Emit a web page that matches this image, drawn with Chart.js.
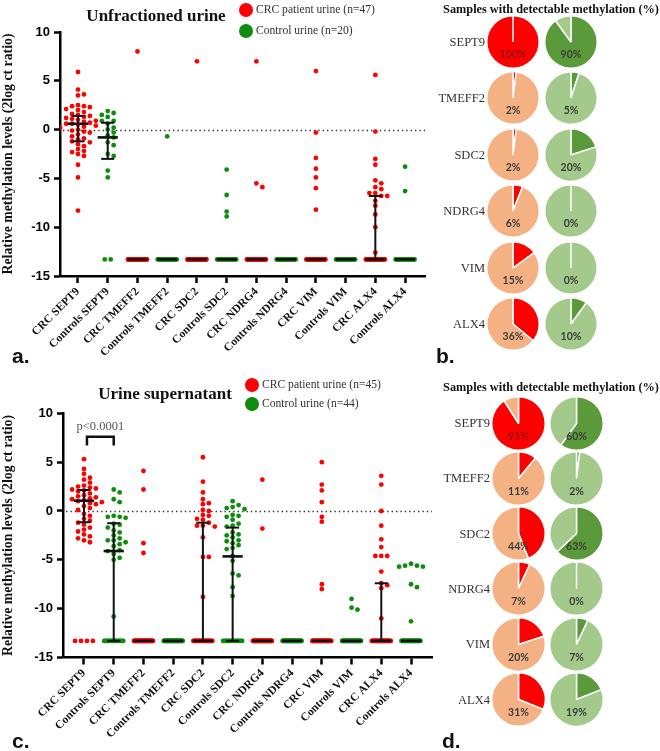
<!DOCTYPE html>
<html><head><meta charset="utf-8">
<script src="https://cdn.jsdelivr.net/npm/chart.js@4.4.0/dist/chart.umd.min.js"></script>
<style>
html,body{margin:0;padding:0;background:#fff;}
#wrap{position:relative;width:660px;height:751px;overflow:hidden;background:#fff;}
canvas{position:absolute;}
.t{position:absolute;white-space:nowrap;line-height:1.2;font-family:"Liberation Serif","Times New Roman",serif;color:#222;}
.dot{position:absolute;border-radius:50%;}
</style></head><body><div id="wrap"></div>
<script>
// ---------------- DATA ----------------
const categories = ['CRC SEPT9','Controls SEPT9','CRC TMEFF2','Controls TMEFF2','CRC SDC2','Controls SDC2','CRC NDRG4','Controls NDRG4','CRC VIM','Controls VIM','CRC ALX4','Controls ALX4'];
const yTicks = [10,5,0,-5,-10,-15];
const UNDETECTABLE = -13.3;

// Panel a: unfractioned urine (CRC n=47, controls n=20)
const aGroupSize = [47,20,47,20,47,20,47,20,47,20,47,20];
const aDetected = [
  [5.9,4.1,3.6,3.5,2.5,2.4,2.4,2.3,2.1,2.0,1.8,1.6,1.5,1.4,1.3,1.2,1.1,1.0,0.9,0.8,0.7,0.6,0.6,0.5,0.4,0.3,0.2,0.0,-0.1,-0.2,-0.3,-0.5,-0.7,-0.9,-1.0,-1.2,-1.3,-1.5,-1.7,-2.0,-2.2,-2.3,-2.5,-2.7,-3.6,-4.9,-8.3],
  [1.9,1.7,1.5,1.3,0.9,0.9,0.6,0.2,0.0,-0.3,-0.6,-0.8,-1.3,-1.6,-2.5,-2.7,-4.2,-4.9],
  [8.0],
  [-0.7],
  [7.0],
  [-4.1,-6.7,-8.4,-8.9],
  [7.0,-5.5,-5.9],
  [],
  [6.0,-0.3,-2.9,-4.0,-4.9,-6.0,-8.2],
  [],
  [5.6,-0.2,-3.0,-3.6,-5.2,-5.5,-5.9,-6.1,-6.5,-6.5,-6.8,-6.8,-7.3,-7.8,-8.7,-10.0,-12.6],
  [-3.8,-6.3]
];
const aMedian = [0.6,-0.8,-13.3,-13.3,-13.3,-13.3,-13.3,-13.3,-13.3,-13.3,-13.3,-13.3];
const aQ1     = [-1.2,-3.0,-13.3,-13.3,-13.3,-13.3,-13.3,-13.3,-13.3,-13.3,-13.3,-13.3];
const aQ3     = [1.4,0.7,-13.3,-13.3,-13.3,-13.3,-13.3,-13.3,-13.3,-13.3,-6.8,-13.3];

// Panel c: urine supernatant (CRC n=45, controls n=44)
const cGroupSize = [45,44,45,44,45,44,45,44,45,44,45,44];
const cDetected = [
  [5.3,4.3,3.8,3.4,3.2,2.9,2.6,2.5,2.4,2.3,2.2,2.1,2.0,1.8,1.6,1.5,1.4,1.3,1.2,1.1,1.0,0.9,0.8,0.7,0.5,0.3,0.1,-0.3,-0.5,-0.8,-1.0,-1.2,-1.4,-1.7,-1.9,-2.1,-2.4,-2.6,-2.8,-3.0,-3.2],
  [2.2,1.9,1.2,0.9,-0.5,-0.6,-0.6,-0.7,-1.3,-1.4,-1.7,-2.0,-2.2,-2.5,-2.8,-3.0,-3.0,-3.2,-3.4,-3.6,-4.0,-4.1,-4.4,-4.8,-5.0,-10.8],
  [4.1,2.2,-3.3,-4.3],
  [],
  [5.5,3.0,1.9,1.2,0.8,0.7,0.1,0.0,-0.4,-0.5,-0.8,-0.9,-1.2,-1.5,-1.5,-1.6,-2.7,-4.7,-4.7,-8.8],
  [1.0,0.6,0.4,0.3,0.2,-0.4,-0.5,-0.6,-0.9,-1.3,-1.5,-1.6,-2.2,-2.4,-2.5,-2.7,-3.0,-3.1,-3.3,-3.5,-3.8,-3.9,-4.6,-5.1,-6.4,-6.6,-7.8,-8.7],
  [3.2,-1.8],
  [],
  [5.0,2.7,2.1,0.9,-0.6,-1.1,-7.5,-8.0],
  [-9.0,-9.9,-10.1],
  [3.6,2.7,0.0,-1.5,-2.9,-3.7,-4.6,-4.6,-4.6,-6.2,-7.4,-7.6,-7.9,-11.0],
  [-5.4,-5.6,-5.6,-5.7,-5.7,-7.5,-7.8,-11.3]
];
const cMedian = [1.05,-4.1,-13.3,-13.3,-13.3,-4.65,-13.3,-13.3,-13.3,-13.3,-13.3,-13.3];
const cQ1     = [-1.15,-13.3,-13.3,-13.3,-13.3,-13.3,-13.3,-13.3,-13.3,-13.3,-13.3,-13.3];
const cQ3     = [2.15,-1.25,-13.3,-13.3,-1.2,-1.7,-13.3,-13.3,-13.3,-13.3,-7.4,-13.3];
const cPValueLabel = 'p<0.0001';
const cPValuePair = [0.1, 1.0];

// Pie charts: % samples with detectable methylation
const genes = ['SEPT9','TMEFF2','SDC2','NDRG4','VIM','ALX4'];
const bCRC  = [100,2,2,6,15,36];
const bCtrl = [90,5,20,0,0,10];
const dCRC  = [91,11,44,7,20,31];
const dCtrl = [60,2,63,0,7,19];

// ---------------- HELPERS ----------------
const wrap = document.getElementById('wrap');
const RED = '#ff0000', GREEN = '#0f8c0f';
function addText(txt, x, y, css, anchor) {
  const d = document.createElement('div');
  d.className = 't';
  d.textContent = txt;
  d.style.left = x + 'px'; d.style.top = y + 'px';
  const tx = anchor === 'center' ? '-50%' : anchor === 'right' ? '-100%' : '0';
  d.style.transform = 'translate(' + tx + ',-50%)';
  Object.assign(d.style, css || {});
  wrap.appendChild(d);
  return d;
}
function addDot(cx, cy, r, color) {
  const d = document.createElement('div');
  d.className = 'dot';
  Object.assign(d.style, {left:(cx-r)+'px', top:(cy-r)+'px', width:2*r+'px', height:2*r+'px', background:color});
  wrap.appendChild(d);
}
function makeCanvas(x, y, w, h) {
  const c = document.createElement('canvas');
  c.width = w; c.height = h;
  c.style.left = x + 'px'; c.style.top = y + 'px';
  c.style.width = w + 'px'; c.style.height = h + 'px';
  wrap.appendChild(c);
  return c;
}

const STEP = 0.2, DY = 0.5;
function swarm(vals) {
  const sorted = vals.slice().sort((a,b)=>b-a);
  const placed = [];
  const cands = [0];
  for (let j=1;j<10;j++) cands.push(j*STEP, -j*STEP);
  for (const v of sorted) {
    let off = 0;
    for (const c of cands) {
      if (!placed.some(p => Math.abs(p.o - c) < STEP*0.9 && Math.abs(p.v - v) < DY)) { off = c; break; }
    }
    placed.push({o:off, v:v});
  }
  return placed;
}
function band(n) {
  const out = [];
  if (n <= 0) return out;
  if (n === 1) return [0];
  const w = Math.min((n-1)*STEP/2, 0.32);
  for (let k=0;k<n;k++) out.push(-w + 2*w*k/(n-1));
  return out;
}
function buildPoints(detected, sizes, parity) {
  const pts = [];
  detected.forEach((vals, i) => {
    if (i % 2 !== parity) return;
    swarm(vals).forEach(p => pts.push({x: i + p.o, y: p.v}));
    band(sizes[i] - vals.length).forEach(o => pts.push({x: i + o, y: UNDETECTABLE}));
  });
  return pts;
}

function makeScatter(canvas, detected, sizes, med, q1, q3, g, extra) {
  const zeroLine = {
    id:'zeroLine',
    beforeDatasetsDraw(chart) {
      const {ctx, chartArea, scales:{y}} = chart;
      const py = Math.round(y.getPixelForValue(0)) + 0.5;
      ctx.save(); ctx.strokeStyle = '#333'; ctx.lineWidth = 1.4; ctx.setLineDash([1.4,3]);
      ctx.beginPath(); ctx.moveTo(chartArea.left + 3, py); ctx.lineTo(chartArea.right, py); ctx.stroke();
      ctx.restore();
    }
  };
  const errorBars = {
    id:'errorBars',
    afterDatasetsDraw(chart) {
      const {ctx, scales:{x,y}} = chart;
      ctx.save(); ctx.strokeStyle = '#111'; ctx.lineCap = 'butt';
      med.forEach((m, i) => {
        const px = x.getPixelForValue(i);
        const wM = x.getPixelForValue(i + 0.34) - px;
        const wC = x.getPixelForValue(i + 0.22) - px;
        const y1 = y.getPixelForValue(q1[i]), y3 = y.getPixelForValue(q3[i]), ym = y.getPixelForValue(m);
        if (Math.abs(y1 - y3) > 0.5) {
          ctx.lineWidth = 2;
          ctx.beginPath(); ctx.moveTo(px, y1); ctx.lineTo(px, y3); ctx.stroke();
          [y1, y3].forEach(yy => { ctx.beginPath(); ctx.moveTo(px - wC, yy); ctx.lineTo(px + wC, yy); ctx.stroke(); });
        }
        ctx.lineWidth = 2.6;
        ctx.beginPath(); ctx.moveTo(px - wM, ym); ctx.lineTo(px + wM, ym); ctx.stroke();
      });
      ctx.restore();
    }
  };
  const plugins = [zeroLine, errorBars];
  if (extra) plugins.push(extra);
  return new Chart(canvas, {
    type: 'scatter',
    data: { datasets: [
      { data: buildPoints(detected, sizes, 0), backgroundColor: RED, pointRadius: 2.4, pointBorderWidth: 0, pointHoverRadius: 2.4 },
      { data: buildPoints(detected, sizes, 1), backgroundColor: GREEN, pointRadius: 2.4, pointBorderWidth: 0, pointHoverRadius: 2.4 }
    ]},
    options: {
      responsive: false, animation: false, events: [],
      devicePixelRatio: 1,
      layout: { padding: { left: 0, top: g.padTop, right: g.padRight, bottom: 0 } },
      plugins: { legend: { display: false }, tooltip: { enabled: false } },
      scales: {
        x: {
          type: 'linear', min: g.xmin, max: g.xmax,
          afterBuildTicks: s => { s.ticks = categories.map((_, i) => ({ value: i })); },
          afterFit: s => { s.height = g.xHeight; },
          ticks: { autoSkip: false, minRotation: 45, maxRotation: 45, padding: 2,
            callback: v => categories[v],
            font: { family: '"Liberation Serif"', weight: 'bold', size: 11.5 }, color: '#111' },
          grid: { display: true, drawOnChartArea: false, drawTicks: true, tickLength: 7, tickWidth: 2.5, tickColor: '#000' },
          border: { display: true, color: '#000', width: 2.5 }
        },
        y: {
          type: 'linear', min: -15, max: 10,
          afterBuildTicks: s => { s.ticks = yTicks.map(v => ({ value: v })); },
          afterFit: s => { s.width = g.yWidth; },
          ticks: { padding: 4, font: { family: '"Liberation Sans"', weight: 'bold', size: 13 }, color: '#000' },
          grid: { display: true, drawOnChartArea: false, drawTicks: true, tickLength: 6, tickWidth: 2.5, tickColor: '#000' },
          border: { display: true, color: '#000', width: 2.5 },
          title: { display: true, text: 'Relative methylation levels (2log ct ratio)', color: '#111',
            font: { family: '"Liberation Serif"', weight: 'bold', size: 13.8 }, padding: { top: 0, bottom: 0 } }
        }
      }
    },
    plugins: plugins
  });
}

function makePie(cx, cy, size, pct, dark, light, labelColor) {
  const c = makeCanvas(cx - size/2, cy - size/2, size, size);
  const label = {
    id: 'pieLabel',
    afterDraw(chart) {
      const arc = chart.getDatasetMeta(0).data[0];
      const ctx = chart.ctx;
      ctx.save();
      ctx.font = 'bold 10.5px Lato, "Liberation Sans", sans-serif';
      ctx.fillStyle = labelColor; ctx.textAlign = 'center'; ctx.textBaseline = 'middle';
      ctx.fillText(pct + '%', arc.x, arc.y + 13);
      ctx.restore();
    }
  };
  return new Chart(c, {
    type: 'pie',
    data: { labels: ['detectable', 'not detectable'], datasets: [{ data: [pct, 100 - pct], backgroundColor: [dark, light], borderColor: '#ffffff', borderWidth: 1.5 }] },
    options: { responsive: false, animation: false, events: [], devicePixelRatio: 1,
      layout: { padding: 0 }, plugins: { legend: { display: false }, tooltip: { enabled: false } } },
    plugins: [label]
  });
}

// ---------------- SCATTER a ----------------
makeScatter(makeCanvas(0, 0, 440, 378), aDetected, aGroupSize, aMedian, aQ1, aQ3,
  { padTop: 32, padRight: 15, yWidth: 60, xHeight: 102, xmin: -0.605, xmax: 11.67 });

// ---------------- SCATTER c ----------------
const bracket = {
  id: 'bracket',
  afterDatasetsDraw(chart) {
    const {ctx, scales:{x,y}} = chart;
    const x1 = x.getPixelForValue(cPValuePair[0]), x2 = x.getPixelForValue(cPValuePair[1]);
    const yt = y.getPixelForValue(7.6), yb = y.getPixelForValue(6.7);
    ctx.save(); ctx.lineWidth = 2.5; ctx.strokeStyle = '#111';
    ctx.beginPath(); ctx.moveTo(x1, yb); ctx.lineTo(x1, yt); ctx.lineTo(x2, yt); ctx.lineTo(x2, yb); ctx.stroke();
    ctx.font = '12.5px "Liberation Serif"'; ctx.fillStyle = '#555'; ctx.textAlign = 'center'; ctx.textBaseline = 'middle';
    ctx.fillText(cPValueLabel, (x1 + x2) / 2, y.getPixelForValue(8.65));
    ctx.restore();
  }
};
makeScatter(makeCanvas(0, 380, 445, 371), cDetected, cGroupSize, cMedian, cQ1, cQ3,
  { padTop: 33.3, padRight: 13, yWidth: 63, xHeight: 93.5, xmin: -0.706, xmax: 11.706 }, bracket);

// ---------------- TEXT: titles, legends ----------------
const titleCss = { fontWeight: 'bold', fontSize: '17px', color: '#111' };
addText('Unfractioned urine', 156, 16, titleCss, 'center');
addText('Urine supernatant', 165, 394, titleCss, 'center');

const legCss = { fontSize: '11.6px', color: '#333' };
addDot(246, 10, 7, RED);   addText('CRC patient urine (n=47)', 256, 10, legCss);
addDot(246, 31, 7, GREEN); addText('Control urine (n=20)', 256, 31, legCss);
addDot(252, 385, 7, RED);   addText('CRC patient urine (n=45)', 262, 385, legCss);
addDot(252, 404, 7, GREEN); addText('Control urine (n=44)', 262, 404, legCss);

const letterCss = { fontFamily: '"Liberation Sans", Arial, sans-serif', fontWeight: 'bold', fontSize: '21px', color: '#111' };
addText('a.', 12, 356, letterCss);
addText('b.', 436, 356, letterCss);
addText('c.', 12, 741, letterCss);
addText('d.', 442, 741, letterCss);

// ---------------- PIES ----------------
const pieTitleCss = { fontWeight: 'bold', fontSize: '12.3px', color: '#111' };
addText('Samples with detectable methylation (%)', 551, 9, pieTitleCss, 'center');
addText('Samples with detectable methylation (%)', 551, 387, pieTitleCss, 'center');

const PEACH = '#f4b183', DKGREEN = '#5b9a3a', LTGREEN = '#a3c98b';
const geneCss = { fontSize: '12.5px', color: '#333' };
genes.forEach((g, i) => {
  const yb = 42 + 56.45 * i;
  addText(g, 485, yb, geneCss, 'right');
  makePie(513, yb, 54, bCRC[i], RED, PEACH, bCRC[i] > 50 ? '#9a0c0c' : '#3c3c3c');
  makePie(571, yb, 54, bCtrl[i], DKGREEN, LTGREEN, '#3c3c3c');
  const yd = 423 + 55.3 * i;
  addText(g, 490, yd, geneCss, 'right');
  makePie(518, yd, 55, dCRC[i], RED, PEACH, dCRC[i] > 50 ? '#9a0c0c' : '#3c3c3c');
  makePie(576, yd, 55, dCtrl[i], DKGREEN, LTGREEN, '#3c3c3c');
});
</script>
</body></html>
